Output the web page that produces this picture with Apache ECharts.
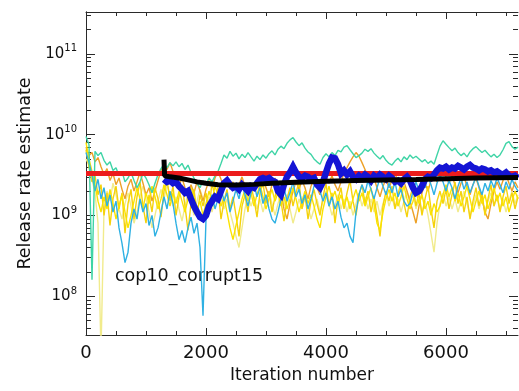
<!DOCTYPE html>
<html>
<head>
<meta charset="utf-8">
<script src="https://cdn.jsdelivr.net/npm/echarts@6/dist/echarts.min.js"></script>
<style>
  html, body { margin: 0; padding: 0; background: #ffffff; }
  #chart { width: 519px; height: 391px; }
</style>
</head>
<body>
<div id="chart"></div>
<script>
// Release-rate chains, one value every ITER_STEP iterations starting at iteration 0
const ITER_STEP = 50;

const chainTurquoise = [
  9.5e9, 7.5e9, 1.6e8, 6.2e9, 5.5e9, 6.0e9, 4.8e9, 4.2e9, 4.6e9, 3.6e9,
  3.9e9, 3.1e9, 3.5e9, 2.6e9, 2.9e9, 3.4e9, 2.7e9, 2.2e9, 2.6e9, 3.3e9,
  2.9e9, 2.4e9, 1.9e9, 2.5e9, 3.2e9, 3.8e9, 4.3e9, 3.9e9, 4.5e9, 4.1e9,
  4.6e9, 4.0e9, 4.4e9, 3.7e9, 4.2e9, 3.4e9, 2.9e9, 2.5e9, 2.2e9, 2.7e9,
  2.4e9, 2.9e9, 2.6e9, 3.1e9, 3.5e9, 4.4e9, 5.6e9, 5.1e9, 6.2e9, 5.4e9,
  5.9e9, 5.0e9, 5.7e9, 5.2e9, 6.0e9, 5.3e9, 4.7e9, 5.4e9, 4.9e9, 5.6e9,
  5.1e9, 5.8e9, 6.3e9, 5.6e9, 6.6e9, 7.2e9, 6.7e9, 7.8e9, 8.6e9, 9.2e9,
  8.1e9, 7.3e9, 7.9e9, 6.8e9, 6.1e9, 5.7e9, 5.0e9, 4.6e9, 4.3e9, 5.2e9,
  5.8e9, 5.3e9, 6.0e9, 5.5e9, 6.4e9, 6.1e9, 7.0e9, 7.3e9, 6.5e9, 5.8e9,
  5.2e9, 5.5e9, 5.9e9, 6.6e9, 6.2e9, 6.7e9, 5.9e9, 5.4e9, 5.0e9, 5.5e9,
  4.8e9, 4.4e9, 4.2e9, 4.7e9, 5.1e9, 4.6e9, 5.3e9, 4.9e9, 5.6e9, 5.1e9,
  5.4e9, 5.0e9, 4.6e9, 4.9e9, 4.4e9, 4.7e9, 4.3e9, 5.6e9, 7.2e9, 8.4e9,
  7.6e9, 6.9e9, 6.3e9, 6.8e9, 6.0e9, 5.5e9, 5.9e9, 5.3e9, 6.1e9, 6.7e9,
  7.1e9, 6.5e9, 6.0e9, 6.4e9, 5.8e9, 5.3e9, 5.7e9, 5.2e9, 5.6e9, 6.5e9,
  7.8e9, 8.2e9, 7.1e9, 6.6e9, 7.0e9
];

const chainSkyBlue = [
  6.0e9, 4.5e9, 3.2e9, 2.0e9, 2.8e9, 1.6e9, 2.2e9, 1.3e9, 1.8e9, 1.1e9,
  1.5e9, 7.0e8, 4.5e8, 2.6e8, 3.5e8, 8.0e8, 1.2e9, 9.0e8, 1.6e9, 1.1e9,
  1.4e9, 7.5e8, 1.0e9, 5.5e8, 7.0e8, 1.1e9, 1.7e9, 1.2e9, 2.0e9, 1.4e9,
  8.0e8, 5.0e8, 6.5e8, 4.6e8, 7.0e8, 9.5e8, 6.0e8, 8.0e8, 4.0e8, 5.7e7,
  9.0e8, 1.3e9, 1.8e9, 1.2e9, 1.6e9, 2.2e9, 1.5e9, 1.9e9, 1.1e9, 1.5e9,
  2.1e9, 1.6e9, 2.4e9, 1.8e9, 1.3e9, 1.9e9, 2.5e9, 1.7e9, 2.2e9, 1.4e9,
  1.8e9, 1.2e9, 9.0e8, 8.0e8, 1.1e9, 1.6e9, 2.2e9, 1.5e9, 1.9e9, 2.6e9,
  1.7e9, 2.1e9, 1.4e9, 1.8e9, 1.2e9, 1.6e9, 2.3e9, 2.8e9, 2.0e9, 1.5e9,
  1.9e9, 1.3e9, 1.7e9, 1.2e9, 1.5e9, 9.5e8, 7.0e8, 8.0e8, 5.5e8, 4.6e8,
  1.1e9, 1.8e9, 2.4e9, 1.9e9, 2.7e9, 2.1e9, 1.6e9, 2.2e9, 2.9e9, 2.3e9,
  1.8e9, 2.5e9, 1.9e9, 2.6e9, 1.7e9, 2.1e9, 1.5e9, 1.3e9, 1.4e9, 2.0e9,
  2.6e9, 2.0e9, 2.8e9, 2.2e9, 3.0e9, 2.4e9, 1.8e9, 2.5e9, 3.2e9, 2.6e9,
  2.0e9, 2.7e9, 2.2e9, 1.6e9, 2.3e9, 2.9e9, 2.1e9, 2.6e9, 1.9e9, 2.4e9,
  3.0e9, 2.3e9, 1.8e9, 2.5e9, 2.0e9, 2.7e9, 2.2e9, 2.9e9, 2.4e9, 1.9e9,
  2.6e9, 2.1e9, 2.8e9, 2.3e9, 2.0e9
];

const chainYellow = [
  8.0e9, 5.0e9, 3.5e9, 2.4e9, 1.5e9, 1.1e9, 1.7e9, 1.2e9, 2.1e9, 1.4e9,
  9.0e8, 1.3e9, 1.8e9, 1.1e9, 7.0e8, 1.0e9, 1.5e9, 2.2e9, 1.6e9, 1.2e9,
  1.9e9, 1.4e9, 2.3e9, 1.7e9, 1.2e9, 1.6e9, 2.4e9, 1.8e9, 1.3e9, 1.9e9,
  1.4e9, 2.0e9, 1.5e9, 1.1e9, 1.6e9, 2.2e9, 1.7e9, 1.2e9, 1.5e9, 1.0e9,
  1.4e9, 2.0e9, 1.5e9, 2.3e9, 1.8e9, 1.3e9, 1.7e9, 1.1e9, 7.0e8, 5.0e8,
  7.5e8, 1.1e9, 1.6e9, 2.1e9, 1.5e9, 1.9e9, 1.3e9, 1.8e9, 2.4e9, 1.7e9,
  1.2e9, 1.6e9, 2.1e9, 1.5e9, 1.9e9, 1.3e9, 1.7e9, 1.2e9, 1.6e9, 2.2e9,
  1.6e9, 1.1e9, 1.5e9, 2.0e9, 1.4e9, 1.8e9, 1.3e9, 9.0e8, 7.0e8, 1.2e9,
  1.7e9, 2.3e9, 1.6e9, 2.0e9, 1.4e9, 1.8e9, 1.3e9, 1.7e9, 1.2e9, 1.6e9,
  2.1e9, 1.5e9, 1.9e9, 1.3e9, 1.7e9, 2.2e9, 1.4e9, 8.0e8, 6.5e8, 1.1e9,
  1.6e9, 2.1e9, 1.5e9, 1.9e9, 1.3e9, 1.7e9, 2.3e9, 1.6e9, 1.2e9, 1.5e9,
  2.0e9, 1.4e9, 1.8e9, 1.2e9, 1.5e9, 1.0e9, 1.4e9, 1.1e9, 1.3e9, 1.8e9,
  2.4e9, 1.7e9, 2.2e9, 1.5e9, 1.9e9, 1.3e9, 1.7e9, 2.3e9, 1.6e9, 1.1e9,
  1.5e9, 2.0e9, 1.4e9, 1.8e9, 1.2e9, 1.6e9, 2.2e9, 1.5e9, 1.9e9, 1.3e9,
  1.7e9, 1.1e9, 1.5e9, 2.0e9, 1.6e9
];

const chainGold = [
  6.5e9, 4.0e9, 2.6e9, 3.1e9, 1.8e9, 2.4e9, 1.0e9, 1.9e9, 7.5e8, 1.6e9,
  2.3e9, 1.2e9, 1.9e9, 6.0e8, 1.4e9, 2.1e9, 9.0e8, 1.7e9, 2.6e9, 1.3e9,
  8.0e8, 1.8e9, 1.1e9, 2.2e9, 1.6e9, 9.5e8, 2.0e9, 2.8e9, 1.5e9, 2.3e9,
  1.0e9, 1.7e9, 2.4e9, 1.3e9, 6.5e8, 1.4e9, 2.1e9, 1.0e9, 1.8e9, 1.3e9,
  1.9e9, 1.1e9, 2.6e9, 1.6e9, 2.2e9, 9.0e8, 1.5e9, 2.1e9, 1.2e9, 1.7e9,
  1.0e9, 5.5e8, 1.3e9, 1.8e9, 1.1e9, 2.3e9, 1.6e9, 9.5e8, 1.9e9, 2.5e9,
  1.4e9, 2.0e9, 1.1e9, 1.7e9, 2.4e9, 1.5e9, 8.5e8, 1.6e9, 2.2e9, 1.3e9,
  1.9e9, 2.6e9, 1.2e9, 1.8e9, 9.0e8, 1.5e9, 2.1e9, 1.4e9, 1.0e9, 1.7e9,
  2.5e9, 1.3e9, 1.9e9, 8.0e8, 1.6e9, 2.2e9, 1.2e9, 1.9e9, 2.7e9, 1.5e9,
  1.0e9, 1.8e9, 2.4e9, 1.4e9, 2.0e9, 1.1e9, 1.7e9, 1.0e9, 5.5e8, 1.3e9,
  2.0e9, 1.5e9, 2.3e9, 1.2e9, 1.8e9, 2.6e9, 1.4e9, 9.5e8, 1.7e9, 2.2e9,
  1.3e9, 1.9e9, 1.0e9, 1.6e9, 2.3e9, 1.2e9, 7.0e8, 1.5e9, 2.0e9, 1.4e9,
  2.1e9, 1.2e9, 1.8e9, 2.6e9, 1.4e9, 2.0e9, 1.1e9, 1.7e9, 9.0e8, 1.5e9,
  2.2e9, 1.3e9, 1.9e9, 1.0e9, 1.6e9, 2.4e9, 1.3e9, 1.8e9, 1.1e9, 1.7e9,
  2.3e9, 1.4e9, 1.9e9, 1.2e9, 1.7e9
];

const chainOrange = [
  7.0e9, 5.5e9, 6.0e9, 4.6e9, 5.2e9, 4.0e9, 3.2e9, 3.8e9, 2.7e9, 3.3e9,
  2.4e9, 2.9e9, 2.1e9, 1.6e9, 2.3e9, 2.8e9, 2.0e9, 2.6e9, 3.4e9, 2.5e9,
  1.8e9, 2.2e9, 1.5e9, 2.0e9, 2.7e9, 3.6e9, 4.3e9, 3.7e9, 4.5e9, 3.5e9,
  2.8e9, 2.3e9, 2.9e9, 2.2e9, 1.7e9, 2.4e9, 1.9e9, 2.6e9, 2.0e9, 1.5e9,
  2.1e9, 2.7e9, 2.2e9, 2.9e9, 3.5e9, 2.8e9, 2.3e9, 2.9e9, 2.1e9, 2.6e9,
  1.9e9, 2.4e9, 3.0e9, 2.3e9, 1.8e9, 2.5e9, 2.0e9, 2.7e9, 2.1e9, 2.8e9,
  2.2e9, 1.7e9, 2.4e9, 2.9e9, 2.3e9, 1.9e9, 1.2e9, 9.0e8, 1.4e9, 2.0e9,
  2.6e9, 2.1e9, 2.7e9, 2.2e9, 1.6e9, 2.3e9, 2.8e9, 2.2e9, 1.8e9, 2.4e9,
  3.0e9, 2.5e9, 3.1e9, 2.4e9, 2.0e9, 2.6e9, 3.3e9, 3.9e9, 4.6e9, 5.3e9,
  6.0e9, 5.4e9, 4.5e9, 3.7e9, 3.0e9, 2.4e9, 2.9e9, 2.2e9, 1.7e9, 2.3e9,
  2.8e9, 2.2e9, 2.7e9, 3.3e9, 2.6e9, 2.1e9, 2.6e9, 2.0e9, 1.5e9, 1.1e9,
  8.0e8, 1.3e9, 1.9e9, 2.5e9, 2.0e9, 2.7e9, 3.2e9, 2.6e9, 3.1e9, 3.7e9,
  3.0e9, 2.5e9, 3.1e9, 2.4e9, 1.9e9, 2.5e9, 3.0e9, 2.3e9, 1.8e9, 2.4e9,
  2.9e9, 2.2e9, 1.6e9, 1.1e9, 9.0e8, 1.4e9, 2.0e9, 2.6e9, 2.1e9, 2.7e9,
  3.2e9, 2.5e9, 2.0e9, 2.6e9, 2.2e9
];

const chainPaleYellow = [
  5.0e9, 4.2e9, 2.8e9, 1.9e9, 8.0e8, 2.0e7, 1.2e9, 2.0e9, 1.5e9, 2.5e9,
  1.8e9, 1.2e9, 9.0e8, 1.4e9, 1.9e9, 1.3e9, 8.0e8, 1.1e9, 1.7e9, 2.3e9,
  1.6e9, 1.1e9, 7.0e8, 1.0e9, 1.5e9, 2.1e9, 1.6e9, 2.4e9, 1.8e9, 1.3e9,
  1.7e9, 1.2e9, 8.5e8, 1.3e9, 1.9e9, 1.4e9, 1.0e9, 1.5e9, 2.1e9, 1.6e9,
  1.2e9, 1.7e9, 1.1e9, 1.6e9, 2.2e9, 1.7e9, 1.2e9, 1.6e9, 1.1e9, 8.0e8,
  5.5e8, 4.0e8, 7.0e8, 1.2e9, 1.8e9, 1.3e9, 1.7e9, 1.2e9, 1.6e9, 1.1e9,
  1.5e9, 2.0e9, 1.4e9, 1.0e9, 1.4e9, 1.9e9, 1.3e9, 1.8e9, 1.2e9, 8.0e8,
  1.1e9, 1.6e9, 1.2e9, 1.7e9, 1.3e9, 9.0e8, 1.2e9, 1.6e9, 1.1e9, 1.5e9,
  2.0e9, 1.4e9, 1.0e9, 1.3e9, 1.8e9, 1.2e9, 1.6e9, 1.1e9, 1.5e9, 1.0e9,
  1.4e9, 1.9e9, 1.3e9, 1.7e9, 1.2e9, 1.6e9, 1.1e9, 1.5e9, 1.0e9, 1.4e9,
  1.9e9, 1.3e9, 1.7e9, 1.2e9, 1.6e9, 1.1e9, 1.5e9, 2.0e9, 1.4e9, 1.8e9,
  1.2e9, 1.6e9, 1.1e9, 1.5e9, 1.0e9, 6.0e8, 3.5e8, 8.0e8, 1.4e9, 1.9e9,
  1.3e9, 1.7e9, 1.2e9, 1.6e9, 1.1e9, 1.5e9, 2.0e9, 1.4e9, 1.0e9, 1.3e9,
  1.8e9, 1.2e9, 1.6e9, 1.1e9, 1.5e9, 1.9e9, 1.3e9, 1.7e9, 1.2e9, 1.6e9,
  1.1e9, 1.5e9, 2.0e9, 1.4e9, 1.8e9
];

// Running estimate, sampled every ITER_STEP iterations from BURN_IN onwards
const BURN_IN = 1300;
const runningEstimate = [
  2.8e9, 2.6e9, 2.7e9, 2.5e9, 2.6e9, 2.3e9, 2.1e9, 1.9e9, 2.0e9, 1.6e9,
  1.3e9, 1.1e9, 9.5e8, 9.0e8, 1.0e9, 1.3e9, 1.5e9, 1.7e9, 1.6e9, 2.0e9,
  2.5e9, 2.7e9, 2.4e9, 2.2e9, 2.3e9, 2.1e9, 2.4e9, 2.2e9, 2.0e9, 2.3e9,
  2.2e9, 2.5e9, 2.8e9, 2.9e9, 2.8e9, 2.9e9, 2.7e9, 2.6e9, 2.0e9, 1.8e9,
  2.4e9, 3.0e9, 3.4e9, 4.0e9, 3.4e9, 3.0e9, 2.9e9, 3.1e9, 3.0e9, 2.8e9,
  2.9e9, 2.4e9, 2.2e9, 2.6e9, 3.4e9, 4.4e9, 5.2e9, 5.1e9, 4.3e9, 3.3e9,
  3.6e9, 3.2e9, 3.5e9, 3.0e9, 2.8e9, 3.1e9, 2.9e9, 3.2e9, 3.0e9, 2.7e9,
  3.1e9, 2.9e9, 3.2e9, 3.0e9, 2.8e9, 3.1e9, 2.9e9, 2.6e9, 2.7e9, 2.5e9,
  2.8e9, 3.0e9, 2.7e9, 2.2e9, 1.9e9, 2.0e9, 2.3e9, 2.8e9, 3.0e9, 2.9e9,
  3.2e9, 3.6e9, 3.9e9, 3.8e9, 4.0e9, 3.7e9, 3.9e9, 3.8e9, 4.1e9, 3.9e9,
  3.7e9, 4.0e9, 4.2e9, 3.9e9, 3.8e9, 3.6e9, 3.8e9, 3.7e9, 3.5e9, 3.6e9,
  3.4e9, 3.5e9, 3.3e9, 3.2e9, 3.4e9, 3.1e9, 3.0e9, 3.1e9, 2.9e9
];

// Cumulative mean after burn-in: [iteration, value]
const cumulativeMean = [
  [1300, 4.9e9], [1310, 3.1e9], [1400, 3.0e9], [1550, 2.9e9], [1700, 2.75e9],
  [1850, 2.6e9], [2000, 2.5e9], [2200, 2.4e9], [2500, 2.37e9], [2800, 2.42e9],
  [3100, 2.5e9], [3500, 2.58e9], [4000, 2.65e9], [4500, 2.7e9], [5000, 2.74e9],
  [5500, 2.78e9], [6000, 2.84e9], [6500, 2.9e9], [7200, 2.95e9]
];

// True release rate
const trueRate = [[0, 3.3e9], [7200, 3.3e9]];

// Axis ranges and ticks
const X_MIN = 0, X_MAX = 7200;
const X_MAJOR = [0, 2000, 4000, 6000];
const X_MINOR = [500, 1000, 1500, 2500, 3000, 3500, 4500, 5000, 5500, 6500, 7000];
const Y_MIN = 3.3e7, Y_MAX = 3.3e11;
const Y_MAJOR = [1e8, 1e9, 1e10, 1e11];
const Y_MINOR = [
  4e7, 5e7, 6e7, 7e7, 8e7, 9e7,
  2e8, 3e8, 4e8, 5e8, 6e8, 7e8, 8e8, 9e8,
  2e9, 3e9, 4e9, 5e9, 6e9, 7e9, 8e9, 9e9,
  2e10, 3e10, 4e10, 5e10, 6e10, 7e10, 8e10, 9e10,
  2e11, 3e11
];

const FONT = '"DejaVu Sans", sans-serif';
const INK = '#111111';
const AXIS_COLOR = '#2a2a2a';

function chainPoints(values, start) {
  return values.map((v, i) => [start + i * ITER_STEP, v]);
}

// Tick rows are drawn on companion value axes that span the same decades in log10 units
const LOG_MIN = Math.log10(Y_MIN), LOG_MAX = Math.log10(Y_MAX);
const logTicks = arr => arr.map(v => Math.log10(v));

function xTickAxis(position, values, length, withLine, extra) {
  return Object.assign({
    type: 'value', position, min: X_MIN, max: X_MAX,
    axisLine: { show: withLine, onZero: false, lineStyle: { color: AXIS_COLOR, width: 1 } },
    axisTick: { show: true, inside: true, length, customValues: values, lineStyle: { color: AXIS_COLOR, width: 1 } },
    axisLabel: { show: false },
    splitLine: { show: false }
  }, extra || {});
}

function yTickAxis(position, values, length, extra) {
  return Object.assign({
    type: 'value', position, min: LOG_MIN, max: LOG_MAX,
    axisLine: { show: false },
    axisTick: { show: true, inside: true, length, customValues: logTicks(values), lineStyle: { color: AXIS_COLOR, width: 1 } },
    axisLabel: { show: false },
    splitLine: { show: false }
  }, extra || {});
}

function chainSeries(values, color, start) {
  return {
    type: 'line', data: chainPoints(values, start || 0),
    xAxisIndex: 0, yAxisIndex: 0,
    showSymbol: false, symbol: 'none', clip: true, silent: true,
    lineStyle: { color, width: 1.4 },
    emphasis: { disabled: true }
  };
}

const chart = echarts.init(document.getElementById('chart'), null, { renderer: 'canvas' });

chart.setOption({
  animation: false,
  backgroundColor: '#ffffff',
  grid: { left: 86, right: 1, top: 12, bottom: 56, containLabel: false, outerBoundsMode: 'none' },
  xAxis: [
    xTickAxis('bottom', X_MAJOR, 7, true, {
      name: 'Iteration number', nameLocation: 'middle', nameGap: 30,
      nameTextStyle: { fontFamily: FONT, fontSize: 17, color: INK },
      axisLabel: {
        show: true, customValues: X_MAJOR, margin: 9,
        formatter: v => String(Math.round(v)),
        fontFamily: FONT, fontSize: 18, color: INK
      }
    }),
    xTickAxis('bottom', X_MINOR, 4, false),
    xTickAxis('top', X_MAJOR, 7, true),
    xTickAxis('top', X_MINOR, 4, false)
  ],
  yAxis: [
    {
      type: 'log', logBase: 10, position: 'left', min: Y_MIN, max: Y_MAX,
      axisLine: { show: true, lineStyle: { color: AXIS_COLOR, width: 1 } },
      axisTick: { show: false }, axisLabel: { show: false }, splitLine: { show: false }
    },
    yTickAxis('left', Y_MAJOR, 9, {
      name: 'Release rate estimate', nameLocation: 'middle', nameGap: 50,
      nameTextStyle: { fontFamily: FONT, fontSize: 17.5, color: INK },
      axisLabel: {
        show: true, customValues: logTicks(Y_MAJOR), margin: 9,
        formatter: v => '{b|10}{e|' + Math.round(v) + '}',
        rich: {
          b: { fontFamily: FONT, fontSize: 15, color: INK, lineHeight: 20 },
          e: { fontFamily: FONT, fontSize: 10, color: INK, lineHeight: 12, verticalAlign: 'top' }
        }
      }
    }),
    yTickAxis('left', Y_MINOR, 5),
    {
      type: 'log', logBase: 10, position: 'right', min: Y_MIN, max: Y_MAX,
      axisLine: { show: true, lineStyle: { color: AXIS_COLOR, width: 1 } },
      axisTick: { show: false }, axisLabel: { show: false }, splitLine: { show: false }
    },
    yTickAxis('right', Y_MAJOR, 9),
    yTickAxis('right', Y_MINOR, 5)
  ],
  series: [
    chainSeries(chainPaleYellow, '#f1eb8c'),
    chainSeries(chainOrange, '#eda127'),
    chainSeries(chainGold, '#f5d20c'),
    chainSeries(chainYellow, '#fbe300'),
    chainSeries(chainSkyBlue, '#2fb1e3'),
    chainSeries(chainTurquoise, '#3fd4a6'),
    {
      type: 'line', data: trueRate, xAxisIndex: 0, yAxisIndex: 0,
      showSymbol: false, symbol: 'none', silent: true,
      lineStyle: { color: '#ec1c1c', width: 5 }, emphasis: { disabled: true }
    },
    Object.assign(chainSeries(runningEstimate, '#1414d4', BURN_IN), {
      lineStyle: { color: '#1414d4', width: 6.5, join: 'miter' }
    }),
    {
      type: 'line', data: cumulativeMean, xAxisIndex: 0, yAxisIndex: 0,
      showSymbol: false, symbol: 'none', silent: true,
      lineStyle: { color: '#000000', width: 5 }, emphasis: { disabled: true }
    }
  ],
  graphic: [
    {
      type: 'text', left: 115, top: 267, silent: true,
      style: { text: 'cop10_corrupt15', font: '17.5px "DejaVu Sans", sans-serif', fill: INK }
    }
  ]
});
</script>
</body>
</html>
